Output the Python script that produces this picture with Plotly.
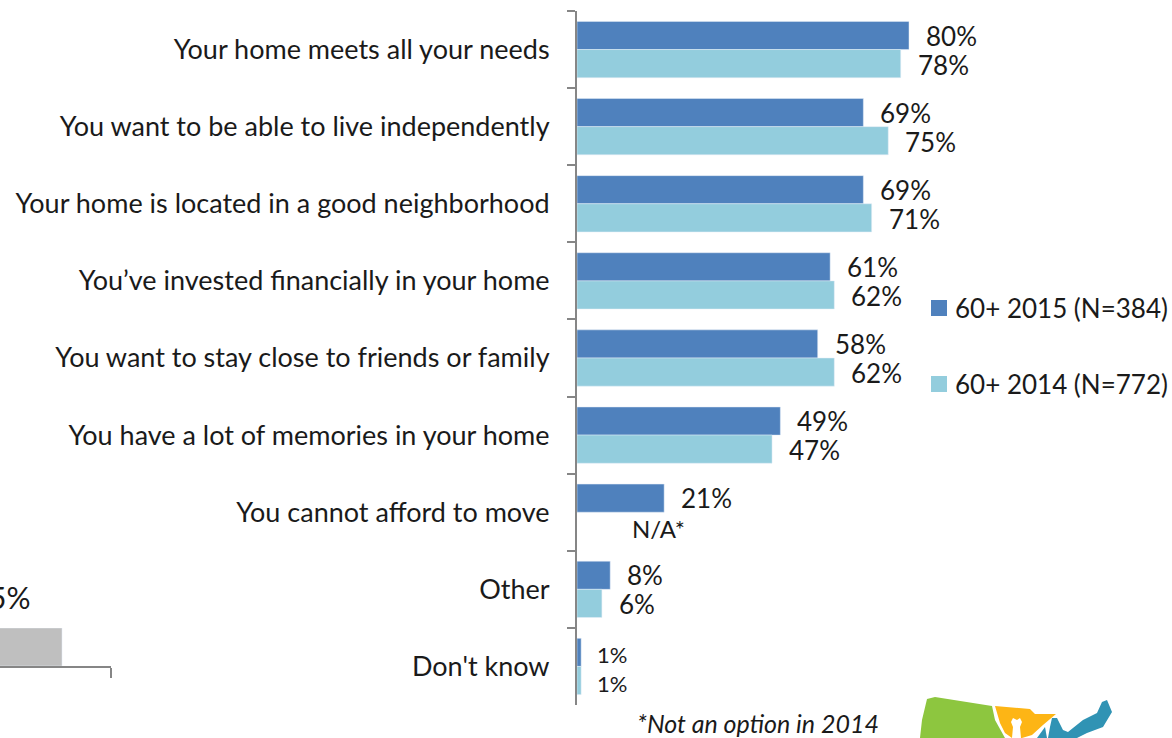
import plotly.graph_objects as go

W, H = 1172, 738
FONT = "Lato"
INK = "#1a1a1a"
AXIS = "#868686"

categories = [
    "Your home meets all your needs",
    "You want to be able to live independently",
    "Your home is located in a good neighborhood",
    "You’ve invested financially in your home",
    "You want to stay close to friends or family",
    "You have a lot of memories in your home",
    "You cannot afford to move",
    "Other",
    "Don't know",
]
values_2015 = [80, 69, 69, 61, 58, 49, 21, 8, 1]
values_2014 = [78, 75, 71, 62, 62, 47, None, 6, 1]
name_2015 = "60+ 2015 (N=384)"
name_2014 = "60+ 2014 (N=772)"
colour_2015 = "#4F81BD"
colour_2014 = "#93CDDD"
missing_label = "N/A*"
footnote = "*Not an option in 2014"
cut_off_label = "5%"
cut_off_value = [5]
cut_off_x = [0]

def px_x(x):
    return x / W

def px_y(y):
    return 1 - y / H

def poly(points):
    return "M" + " L".join(f"{px_x(x):.5f},{px_y(y):.5f}" for x, y in points) + " Z"

fig = go.Figure()
fig.add_bar(name=name_2015, y=categories, x=values_2015, orientation="h",
            marker=dict(color=colour_2015), showlegend=False)
fig.add_bar(name=name_2014, y=categories, x=values_2014, orientation="h",
            marker=dict(color=colour_2014), showlegend=False)
fig.add_bar(x=cut_off_x, y=cut_off_value, width=[1.117], marker=dict(color="#BFBFBF"),
            xaxis="x2", yaxis="y2", showlegend=False)


def value_note(value, cat, upper):
    small = value == 1
    yshift = (12 if upper else -17) if small else (14 if upper else -15)
    return dict(x=value, y=cat, text=f"{value}%", xanchor="left", yanchor="middle",
                xshift=14 if small else 15, yshift=yshift, showarrow=False,
                font=dict(family=FONT, size=22 if small else 26, color=INK))


annotations = []
for cat, v15, v14 in zip(categories, values_2015, values_2014):
    annotations.append(value_note(v15, cat, True))
    if v14 is None:
        annotations.append(dict(x=0, y=cat, text=missing_label, xanchor="left", yanchor="middle",
                                xshift=53, yshift=-16, showarrow=False,
                                font=dict(family=FONT, size=24, color=INK)))
    else:
        annotations.append(value_note(v14, cat, False))
annotations.append(dict(xref="paper", yref="paper", x=px_x(881), y=px_y(723), text=f"<i>{footnote}</i>",
                        xanchor="right", yanchor="middle", showarrow=False,
                        font=dict(family=FONT, size=25, color=INK)))
annotations.append(dict(xref="paper", yref="paper", x=px_x(32), y=px_y(597), text=cut_off_label,
                        xanchor="right", yanchor="middle", showarrow=False,
                        font=dict(family=FONT, size=30, color=INK)))

# legend, placed by hand: the native legend's padding would push the plot margin
legend_rows = [(name_2015, colour_2015, 308), (name_2014, colour_2014, 384)]
for nm, col, row_y in legend_rows:
    annotations.append(dict(xref="paper", yref="paper", x=px_x(955), y=px_y(row_y), text=nm,
                            xanchor="left", yanchor="middle", showarrow=False, xshift=-2,
                            font=dict(family=FONT, size=26, color=INK)))

logo = [
    ("#8DC63F", [(927, 699), (935, 697), (992, 706), (995, 720), (1005, 738), (920, 738), (922, 720)]),
    ("#FDB515", [(995, 706), (1030, 709), (1035, 714), (1056, 714), (1043, 725), (1032, 735),
                 (1022, 738), (1012, 738), (1005, 733), (1000, 723)]),
    ("#3093B4", [(1052, 718), (1057, 718), (1063, 730), (1068, 732), (1083, 720), (1097, 713),
                 (1102, 702), (1107, 700), (1112, 712), (1103, 727), (1087, 733), (1077, 738),
                 (1048, 738), (1050, 727)]),
    ("#3093B4", [(1045, 727), (1037, 738), (1047, 738)]),
    ("#FFFFFF", [(1012, 738), (1013, 727), (1011, 722), (1013, 718), (1017, 720), (1020, 718),
                 (1022, 722), (1020, 727), (1021, 738)]),
]
shapes = [dict(type="path", xref="paper", yref="paper", path=poly(p),
               fillcolor=c, line=dict(width=0), layer="above") for c, p in logo]
for nm, col, row_y in legend_rows:
    shapes.append(dict(type="rect", xref="paper", yref="paper",
                       x0=px_x(931), x1=px_x(947), y0=px_y(row_y + 8), y1=px_y(row_y - 8),
                       fillcolor=col, line=dict(width=0)))

fig.update_layout(
    width=W, height=H, autosize=False,
    margin=dict(l=0, r=0, t=0, b=0, pad=0),
    paper_bgcolor="white", plot_bgcolor="white",
    barmode="group", bargap=0.27, bargroupgap=0,
    font=dict(family=FONT, color=INK),
    annotations=annotations, shapes=shapes,
    showlegend=False,
    xaxis=dict(domain=[px_x(577), 1], range=[0, (W - 577) / 4.15], visible=False),
    yaxis=dict(domain=[px_y(705), px_y(11)], range=[8.5, -0.5], type="category",
               categoryorder="array", categoryarray=categories, tickson="boundaries",
               ticks="outside", ticklen=8, tickwidth=2, tickcolor=AXIS,
               showline=True, linecolor=AXIS, linewidth=2, showgrid=False, zeroline=False,
               tickfont=dict(family=FONT, size=27, color=INK), ticklabelstandoff=20),
    xaxis2=dict(domain=[0, px_x(111)], range=[0, 1], anchor="y2", tickvals=[1], ticktext=[""],
                ticks="outside", ticklen=10, tickwidth=2, tickcolor=AXIS,
                showline=True, linecolor=AXIS, linewidth=2, showgrid=False, zeroline=False),
    yaxis2=dict(domain=[px_y(666), px_y(628)], range=[0, 5], anchor="x2", visible=False),
)

fig.write_html("out.html", config=dict(displayModeBar=False),
               post_script="document.body.style.margin='0';window.dispatchEvent(new Event('resize'));")
